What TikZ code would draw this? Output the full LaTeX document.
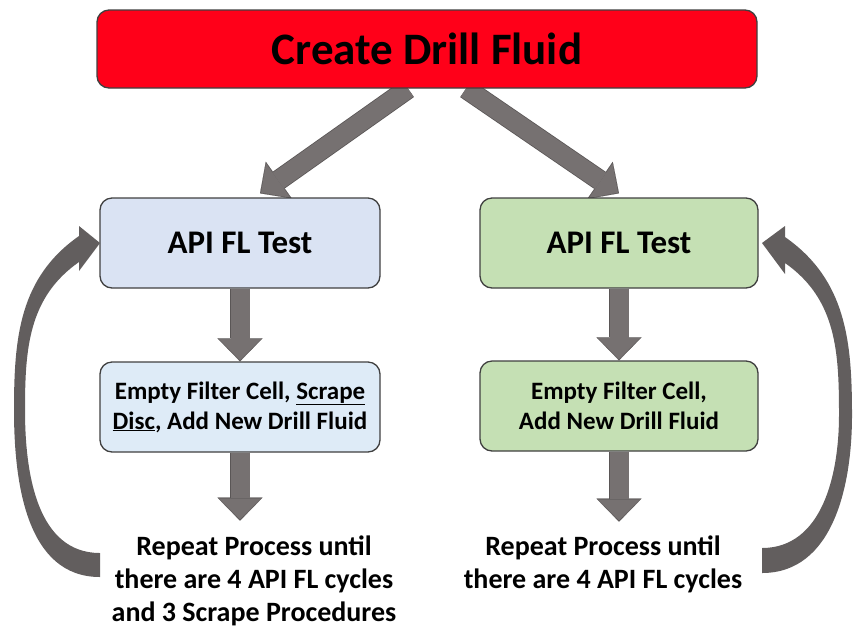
\documentclass[tikz,border=0pt]{standalone}
\usepackage{fontspec}
\setmainfont{Carlito}
\usetikzlibrary{arrows.meta,positioning,backgrounds}

\definecolor{drillred}{RGB}{255,0,25}
\definecolor{testblue}{RGB}{218,227,243}
\definecolor{taskblue}{RGB}{222,235,247}
\definecolor{testgreen}{RGB}{197,224,180}
\definecolor{edgegray}{RGB}{64,64,64}
\definecolor{arrowgray}{RGB}{118,113,113}
\definecolor{arrowedge}{RGB}{90,86,86}
\definecolor{loopgray}{RGB}{98,94,94}

\begin{document}
\begin{tikzpicture}[x=1pt,y=-1pt,font=\bfseries]
    \tikzstyle{box}=[draw=edgegray, line width=1.3pt, rounded corners=12pt, align=center,
        minimum width=280pt, minimum height=90pt, inner sep=0pt]
    \tikzstyle{bigarrow}=[draw=arrowgray, line width=19pt, shorten >=1.2pt,
        -{Triangle[length=21pt,width=42pt,line width=0.1pt]},
        preaction={draw=arrowedge, line width=20.6pt, shorten >=0pt,
        -{Triangle[length=23pt,width=45pt,line width=0.1pt]}}]
    \useasboundingbox (0,0) rectangle (853,633);

    \node[box, fill=drillred, minimum width=660pt, minimum height=78pt,
        font=\bfseries\fontsize{45}{54}\selectfont] (create) at (427,49) {Create Drill Fluid};
    \node[box, fill=testblue, font=\bfseries\fontsize{33}{40}\selectfont] (testL) at (240,243) {API FL Test};
    \node[box, fill=testgreen, minimum width=278pt, font=\bfseries\fontsize{33}{40}\selectfont] (testR) at (619,243) {API FL Test};
    \node[box, fill=taskblue, font=\bfseries\fontsize{25}{30}\selectfont] (taskL) at (240,407)
        {Empty Filter Cell, \underline{Scrape}\\\underline{Disc}, Add New Drill Fluid};
    \node[box, fill=testgreen, minimum width=278pt, font=\bfseries\fontsize{25}{30}\selectfont] (taskR) at (619,406)
        {Empty Filter Cell,\\Add New Drill Fluid};
    \node[align=center, font=\bfseries\fontsize{28}{33}\selectfont] (repeatL) at (254,581)
        {Repeat Process until\\there are 4 API FL cycles\\and 3 Scrape Procedures};
    \node[align=center, font=\bfseries\fontsize{28}{33}\selectfont] (repeatR) at (603,564)
        {Repeat Process until\\there are 4 API FL cycles};

    % flow arrows, behind the boxes
    \begin{scope}[on background layer]
    \draw[bigarrow] ([xshift=-19pt]create.south) -- ([shift={(20pt,4pt)}]testL.north);
    \draw[bigarrow] ([xshift=39pt]create.south) -- ([yshift=4pt]testR.north);
    \draw[bigarrow] (testL) -- (taskL);
    \draw[bigarrow] (testR) -- (taskR);
    \draw[bigarrow] (taskL.south) -- ([yshift=-68pt]taskL.south);
    \draw[bigarrow] (taskR.south) -- ([yshift=-70pt]taskR.south);
    \end{scope}

    % loop back arrows
    \fill[loopgray] (100,577) to[out=180,in=-90] (14,410) to[out=90,in=215] (79,236)
        -- (79,226) -- (100,243) -- (79,271) -- (79,262)
        to[out=215,in=90] (25,410) to[out=-90,in=180] (100,553) -- cycle;
    \fill[loopgray] (762,573) to[out=0,in=-90] (852,415) to[out=90,in=-35] (785,237)
        -- (785,226) -- (762,243) -- (785,274) -- (785,263)
        to[out=-35,in=90] (839,415) to[out=-90,in=0] (762,548) -- cycle;
\end{tikzpicture}
\end{document}
